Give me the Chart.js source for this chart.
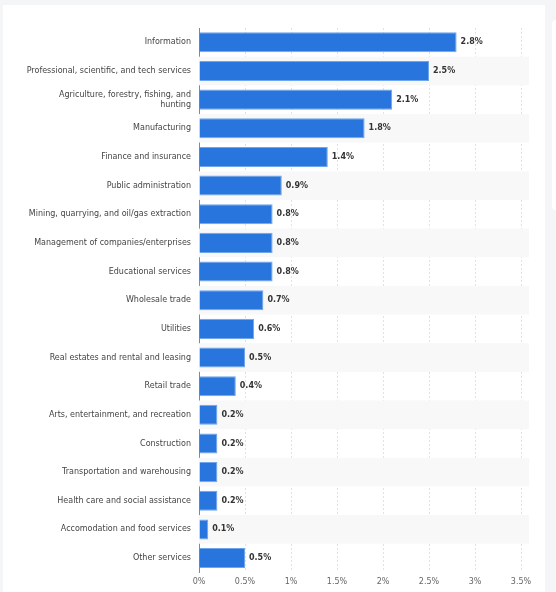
<!DOCTYPE html>
<html>
<head>
<meta charset="utf-8">
<script src="https://cdn.jsdelivr.net/npm/chart.js@4/dist/chart.umd.min.js"></script>
<style>
  html, body { margin: 0; padding: 0; background: #f4f5f7; }
  .card { position: absolute; left: 3px; top: 5px; width: 542px; height: 587px; background: #fff; }
  .side { position: absolute; left: 552px; top: 20px; width: 10px; height: 190px; background: #fff; border-radius: 4px; }
</style>
</head>
<body>
<div class="card"><canvas id="chartCanvas" width="542" height="587"></canvas></div>
<div class="side"></div>
<script>
// Categorías y valores (estimados de la imagen)
const categorias = [
  'Information',
  'Professional, scientific, and tech services',
  ['Agriculture, forestry, fishing, and', 'hunting'],
  'Manufacturing',
  'Finance and insurance',
  'Public administration',
  'Mining, quarrying, and oil/gas extraction',
  'Management of companies/enterprises',
  'Educational services',
  'Wholesale trade',
  'Utilities',
  'Real estates and rental and leasing',
  'Retail trade',
  'Arts, entertainment, and recreation',
  'Construction',
  'Transportation and warehousing',
  'Health care and social assistance',
  'Accomodation and food services',
  'Other services'
];
const valores = [2.8, 2.5, 2.1, 1.8, 1.4, 0.9, 0.8, 0.8, 0.8, 0.7, 0.6, 0.5, 0.4, 0.2, 0.2, 0.2, 0.2, 0.1, 0.5];
const xTicks = [0, 0.5, 1, 1.5, 2, 2.5, 3, 3.5];

// Franjas alternas y etiquetas de valor
const extras = {
  id: 'extras',
  beforeDatasetsDraw(chart) {
    const { ctx, chartArea, scales } = chart;
    const y = scales.y;
    const step = (y.getPixelForValue(1) - y.getPixelForValue(0));
    ctx.save();
    ctx.fillStyle = '#f8f8f8';
    categorias.forEach((_, i) => {
      if (i % 2 === 1) {
        const c = y.getPixelForValue(i);
        ctx.fillRect(chartArea.left, c - step / 2, chartArea.right - chartArea.left + 8, step);
      }
    });
    ctx.restore();
  },
  afterDatasetsDraw(chart) {
    const { ctx } = chart;
    const meta = chart.getDatasetMeta(0);
    ctx.save();
    ctx.font = 'bold 8px "DejaVu Sans"';
    ctx.fillStyle = '#333';
    ctx.textBaseline = 'middle';
    meta.data.forEach((bar, i) => {
      ctx.fillText(valores[i].toFixed(1) + '%', bar.x + 4, bar.y);
    });
    ctx.restore();
  }
};

new Chart(document.getElementById('chartCanvas').getContext('2d'), {
  type: 'bar',
  data: {
    labels: categorias,
    datasets: [{
      data: valores,
      backgroundColor: '#2876dd',
      borderColor: '#6fa5ea',
      borderWidth: { right: 1, top: 1, bottom: 1 },
      categoryPercentage: 0.7,
      barPercentage: 1
    }]
  },
  options: {
    indexAxis: 'y',
    responsive: false,
    animation: false,
    layout: { padding: { top: 23, right: 24, left: 0, bottom: 0 } },
    scales: {
      x: {
        min: 0, max: 3.5,
        afterBuildTicks: axis => { axis.ticks = xTicks.map(v => ({ value: v })); },
        ticks: { callback: v => v + '%', color: '#666', font: { size: 8, family: 'DejaVu Sans' }, padding: 5 },
        grid: { color: '#e2e2e2', drawTicks: false },
        border: { display: false, dash: [2, 2] }
      },
      y: {
        afterFit: axis => { axis.width = 196; },
        ticks: { color: '#444', font: { size: 8, family: 'DejaVu Sans' }, padding: 8, autoSkip: false },
        grid: { display: false, drawTicks: false },
        border: { color: '#888', width: 1 }
      }
    },
    plugins: { legend: { display: false }, tooltip: { enabled: false } }
  },
  plugins: [extras]
});
</script>
</body>
</html>
